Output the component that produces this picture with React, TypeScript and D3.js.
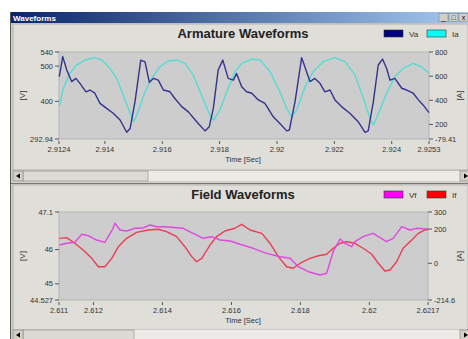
import * as d3 from 'd3';

// ---- Armature panel data ----
const vaTime = [2.91241, 2.91253, 2.91267, 2.91284, 2.91299, 2.91313, 2.91334, 2.91348, 2.91365, 2.91383, 2.91406, 2.91429, 2.91453, 2.91476, 2.91488, 2.91505, 2.91525, 2.9154, 2.91555, 2.91569, 2.91586, 2.91604, 2.91627, 2.91644, 2.91668, 2.91691, 2.9172, 2.91749, 2.91764, 2.91778, 2.91795, 2.91811, 2.9183, 2.91848, 2.91859, 2.91877, 2.91894, 2.91912, 2.91935, 2.91958, 2.91987, 2.9201, 2.92034, 2.92043, 2.92063, 2.92086, 2.92101, 2.92115, 2.92132, 2.9215, 2.92167, 2.92185, 2.92202, 2.92225, 2.92254, 2.92283, 2.92307, 2.92318, 2.92336, 2.92353, 2.92368, 2.92382, 2.92394, 2.92411, 2.92435, 2.92452, 2.92475, 2.92493, 2.9251, 2.9253];
const vaValues = [470, 527, 489, 456, 465, 451, 427, 432, 423, 394, 380, 366, 347, 312, 323, 399, 517, 512, 454, 465, 460, 432, 427, 408, 385, 370, 342, 316, 328, 380, 489, 517, 465, 460, 479, 441, 427, 423, 404, 394, 356, 337, 316, 318, 399, 524, 489, 456, 465, 451, 427, 432, 404, 385, 366, 342, 312, 316, 399, 503, 520, 494, 460, 465, 437, 432, 423, 404, 389, 368];
const iaTime = [2.91241, 2.91255, 2.91278, 2.91302, 2.91331, 2.91365, 2.91389, 2.91418, 2.91441, 2.91464, 2.91488, 2.91501, 2.91516, 2.9154, 2.91563, 2.91592, 2.91621, 2.9165, 2.91679, 2.91708, 2.91737, 2.91766, 2.9178, 2.91801, 2.91825, 2.91854, 2.91877, 2.91912, 2.91941, 2.91976, 2.9201, 2.92034, 2.92051, 2.92069, 2.92098, 2.92126, 2.92161, 2.92202, 2.92237, 2.92272, 2.92301, 2.92324, 2.92336, 2.92359, 2.92382, 2.92411, 2.9244, 2.92475, 2.92504, 2.9253];
const iaValues = [347, 499, 624, 692, 734, 753, 734, 665, 582, 444, 292, 223, 306, 471, 582, 678, 726, 734, 706, 610, 444, 278, 237, 320, 471, 637, 706, 742, 734, 637, 471, 334, 264, 320, 513, 637, 720, 753, 720, 610, 417, 251, 195, 320, 458, 595, 665, 706, 678, 624];

const armXTicks = [2.9124, 2.914, 2.916, 2.918, 2.92, 2.922, 2.924, 2.9253];
const armLeftTicks = [292.94, 400, 500, 540];
const armRightTicks = [79.41, 200, 400, 600, 800];
const armRightLabels = ['-79.41', '200', '400', '600', '800'];

// ---- Field panel data ----
const vfTime = [2.61101, 2.61122, 2.61146, 2.61166, 2.61185, 2.61209, 2.61233, 2.61257, 2.61262, 2.61277, 2.61296, 2.6132, 2.6134, 2.61364, 2.61383, 2.61407, 2.61441, 2.6146, 2.61489, 2.61518, 2.61543, 2.61567, 2.61596, 2.61625, 2.61663, 2.61702, 2.61741, 2.6177, 2.61794, 2.61823, 2.61857, 2.61876, 2.61895, 2.61915, 2.61929, 2.61949, 2.61958, 2.61982, 2.62011, 2.62026, 2.6205, 2.62069, 2.62094, 2.62118, 2.62137, 2.62166];
const vfValues = [46.135, 46.185, 46.214, 46.448, 46.407, 46.281, 46.214, 46.623, 46.77, 46.574, 46.544, 46.623, 46.623, 46.72, 46.67, 46.67, 46.641, 46.623, 46.477, 46.331, 46.378, 46.281, 46.252, 46.156, 46.039, 45.892, 45.793, 45.746, 45.501, 45.354, 45.258, 45.308, 45.939, 46.311, 46.185, 46.085, 46.232, 46.378, 46.477, 46.378, 46.232, 46.331, 46.67, 46.574, 46.623, 46.603];
const ifTime = [2.61101, 2.61122, 2.61146, 2.6117, 2.61195, 2.61214, 2.61233, 2.61253, 2.61272, 2.61296, 2.61325, 2.61359, 2.61388, 2.61412, 2.61441, 2.61465, 2.61485, 2.61499, 2.61514, 2.61538, 2.61557, 2.61581, 2.6161, 2.6163, 2.61654, 2.61688, 2.61712, 2.61736, 2.6176, 2.61779, 2.61804, 2.61828, 2.61852, 2.61876, 2.61895, 2.61915, 2.61934, 2.61958, 2.61982, 2.62007, 2.62026, 2.62045, 2.6206, 2.62079, 2.62098, 2.62123, 2.62142, 2.62161, 2.62171];
const ifValues = [146, 150, 117, 78, 29, -20, -20, 29, 97, 146, 181, 195, 199, 185, 156, 97, 39, 9, 29, 107, 156, 189, 205, 228, 195, 175, 117, 39, -20, -29, 6, 29, 44, 53, 88, 117, 126, 117, 88, 53, 0, -45, -39, 9, 88, 136, 175, 195, 199];

const fieldXTicks = [2.611, 2.612, 2.614, 2.616, 2.618, 2.62, 2.6217];
const fieldLeftTicks = [44.527, 45, 46, 47.1];
const fieldRightTicks = [-214.6, 0, 200, 300];

const PANEL_BG = '#dfded9';
const PLOT_BG = '#cdcdcd';
const TEXT = '#333';
const FONT = '"Liberation Sans", Arial, sans-serif';

interface Series { t: number[]; v: number[]; axis: 'left' | 'right'; color: string }
interface PanelProps {
  top: number;
  title: string;
  legend: { label: string; color: string }[];
  box: { x0: number; x1: number; y0: number; y1: number };
  xTicks: number[];
  leftTicks: number[];
  rightTicks: number[];
  rightLabels?: string[];
  leftName: string;
  rightName: string;
  series: Series[];
}

function Panel({ top, title, legend, box, xTicks, leftTicks, rightTicks, rightLabels, leftName, rightName, series }: PanelProps) {
  const x = d3.scaleLinear().domain([xTicks[0], xTicks[xTicks.length - 1]]).range([box.x0, box.x1]);
  const yl = d3.scaleLinear().domain([leftTicks[0], leftTicks[leftTicks.length - 1]]).range([box.y1, box.y0]);
  const yr = d3.scaleLinear().domain([rightTicks[0], rightTicks[rightTicks.length - 1]]).range([box.y1, box.y0]);
  const midY = (box.y0 + box.y1) / 2;

  return (
    <g fontFamily={FONT}>
      <text x={243} y={top + 14} textAnchor="middle" fontSize={13} fontWeight="bold" fill="#222">{title}</text>
      {legend.map((l, i) => (
        <g key={l.label} transform={`translate(${384 + i * 43},${top + 6})`}>
          <rect width={19} height={7} fill={l.color} stroke="#333" strokeWidth={0.6} />
          <text x={25} y={7} fontSize={8} fill={TEXT}>{l.label}</text>
        </g>
      ))}
      <rect x={box.x0} y={box.y0} width={box.x1 - box.x0} height={box.y1 - box.y0} fill={PLOT_BG} stroke="#b5b5b5" strokeWidth={1} />
      {series.map((s, i) => {
        const sc = s.axis === 'left' ? yl : yr;
        const line = d3.line<number>().x((_, j) => x(s.t[j])).y((d) => sc(d));
        return <path key={i} d={line(s.v) || ''} fill="none" stroke={s.color} strokeWidth={1.4} strokeLinejoin="round" />;
      })}
      {leftTicks.map((t) => (
        <g key={'l' + t}>
          <line x1={box.x0 - 4} x2={box.x0} y1={yl(t)} y2={yl(t)} stroke="#555" />
          <text x={box.x0 - 6} y={yl(t) + 2.5} fontSize={7.5} textAnchor="end" fill={TEXT}>{String(t)}</text>
        </g>
      ))}
      {rightTicks.map((t, i) => (
        <g key={'r' + t}>
          <line x1={box.x1} x2={box.x1 + 4} y1={yr(t)} y2={yr(t)} stroke="#555" />
          <text x={box.x1 + 6} y={yr(t) + 2.5} fontSize={7.5} fill={TEXT}>{rightLabels ? rightLabels[i] : String(t)}</text>
        </g>
      ))}
      {xTicks.map((t) => (
        <g key={'x' + t}>
          <line x1={x(t)} x2={x(t)} y1={box.y1 + 2} y2={box.y1 + 5} stroke="#555" />
          <text x={x(t)} y={box.y1 + 13} fontSize={7.5} textAnchor="middle" fill={TEXT}>{String(t)}</text>
        </g>
      ))}
      <text x={243} y={box.y1 + 23} fontSize={7.5} textAnchor="middle" fill={TEXT}>Time [Sec]</text>
      <text transform={`translate(25,${midY}) rotate(-90)`} fontSize={8} textAnchor="middle" fill={TEXT}>{leftName}</text>
      <text transform={`translate(462,${midY}) rotate(-90)`} fontSize={8} textAnchor="middle" fill={TEXT}>{rightName}</text>
    </g>
  );
}

function ScrollBar({ y, thumbEnd }: { y: number; thumbEnd: number }) {
  return (
    <g>
      <rect x={13} y={y} width={455} height={10} fill="#ecebe7" />
      <rect x={23} y={y} width={thumbEnd - 23} height={10} fill="#dcdad4" stroke="#8a8a8a" strokeWidth={0.6} />
      <rect x={13} y={y} width={10} height={10} fill="#d4d0c8" stroke="#808080" strokeWidth={0.6} />
      <path d={`M20,${y + 2.5} L16,${y + 5} L20,${y + 7.5} Z`} fill="#000" />
      <rect x={460} y={y} width={10} height={10} fill="#d4d0c8" stroke="#808080" strokeWidth={0.6} />
      <path d={`M464,${y + 2.5} L468,${y + 5} L464,${y + 7.5} Z`} fill="#000" />
    </g>
  );
}

export default function App() {
  return (
    <div style={{ position: 'fixed', left: 0, top: 0 }}>
      <svg width={468} height={339} style={{ display: 'block', background: '#fff' }}>
        <defs>
          <linearGradient id="tb" x1="0" x2="1" y1="0" y2="0">
            <stop offset="0" stopColor="#0a246a" />
            <stop offset="1" stopColor="#a6caf0" />
          </linearGradient>
        </defs>
        {/* window frame */}
        <rect x={10} y={12} width={458} height={327} fill="#d4d0c8" />
        <line x1={10.5} x2={10.5} y1={12} y2={339} stroke="#555" />
        <rect x={11} y={12} width={457} height={11} fill="url(#tb)" />
        <text x={13} y={20.5} fontSize={8} fontWeight="bold" fill="#fff" fontFamily={FONT}>Waveforms</text>
        {['_', '□', 'x'].map((c, i) => (
          <g key={c}>
            <rect x={439 + i * 10} y={13.5} width={9} height={8} fill="#d4d0c8" stroke="#777" strokeWidth={0.5} />
            <text x={443.5 + i * 10} y={20} fontSize={7} textAnchor="middle" fill="#000" fontFamily={FONT}>{c}</text>
          </g>
        ))}

        {/* top panel */}
        <rect x={13} y={24} width={455} height={146} fill={PANEL_BG} stroke="#a8a8a8" strokeWidth={0.8} />
        <Panel
          top={24}
          title="Armature Waveforms"
          legend={[{ label: 'Va', color: '#000080' }, { label: 'Ia', color: '#00ffff' }]}
          box={{ x0: 59, x1: 429, y0: 52, y1: 139 }}
          xTicks={armXTicks}
          leftTicks={armLeftTicks}
          rightTicks={armRightTicks}
          rightLabels={armRightLabels}
          leftName="[V]"
          rightName="[A]"
          series={[
            { t: iaTime, v: iaValues, axis: 'right', color: '#55dcd4' },
            { t: vaTime, v: vaValues, axis: 'left', color: '#33338f' },
          ]}
        />
        <ScrollBar y={171} thumbEnd={148} />
        <line x1={11} x2={468} y1={183.5} y2={183.5} stroke="#777" />

        {/* bottom panel */}
        <rect x={13} y={185} width={455} height={145} fill={PANEL_BG} stroke="#a8a8a8" strokeWidth={0.8} />
        <Panel
          top={185}
          title="Field Waveforms"
          legend={[{ label: 'Vf', color: '#ff00ff' }, { label: 'If', color: '#ff0000' }]}
          box={{ x0: 59, x1: 428, y0: 212, y1: 300 }}
          xTicks={fieldXTicks}
          leftTicks={fieldLeftTicks}
          rightTicks={fieldRightTicks}
          leftName="[V]"
          rightName="[A]"
          series={[
            { t: ifTime, v: ifValues, axis: 'right', color: '#ea3d52' },
            { t: vfTime, v: vfValues, axis: 'left', color: '#e048e0' },
          ]}
        />
        <ScrollBar y={330} thumbEnd={134} />
      </svg>
    </div>
  );
}
